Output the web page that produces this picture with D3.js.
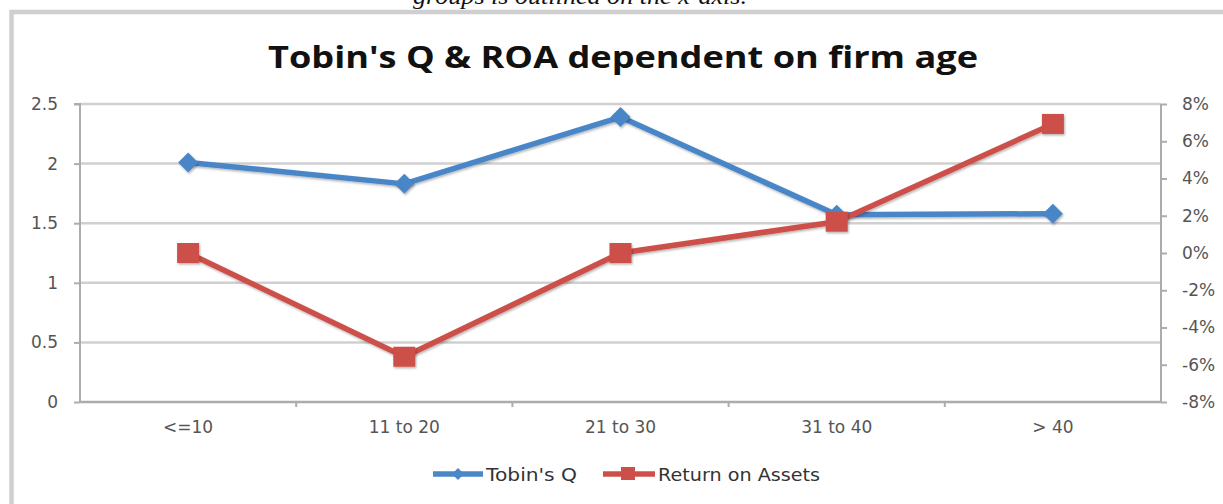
<!DOCTYPE html>
<html>
<head>
<meta charset="utf-8">
<script src="https://cdn.jsdelivr.net/npm/d3@7/dist/d3.min.js"></script>
<style>
  html, body { margin: 0; padding: 0; background: #fff; }
  svg { display: block; }
</style>
</head>
<body>
<svg id="chart" width="1223" height="504"></svg>
<script>
const categories = ["<=10", "11 to 20", "21 to 30", "31 to 40", "> 40"];
const tobinsQ = [2.01, 1.83, 2.39, 1.57, 1.58];
const roa = [0.000, -0.0557, 0.000, 0.0168, 0.0693];
const leftTicks = [0, 0.5, 1, 1.5, 2, 2.5];
const rightTicks = [-0.08, -0.06, -0.04, -0.02, 0, 0.02, 0.04, 0.06, 0.08];
const rightTickLabels = ["-8%", "-6%", "-4%", "-2%", "0%", "2%", "4%", "6%", "8%"];
const seriesNames = ["Tobin's Q", "Return on Assets"];
const titleText = "Tobin's Q & ROA dependent on firm age";
const captionText = "groups is outlined on the x-axis.";

const svg = d3.select("#chart");
const W = 1223, H = 504;
const plot = { left: 80, right: 1161, top: 104, bottom: 402 };
const blue = "#4a86c8", red = "#cc5049";
const gridCol = "#d0d0d0", axisCol = "#acacac", labelCol = "#555";
const tickFont = "'DejaVu Sans', Verdana, sans-serif";
const tickSize = 17;

const defs = svg.append("defs");
const f = defs.append("filter").attr("id", "shadow").attr("x", "-50%").attr("y", "-50%").attr("width", "200%").attr("height", "200%");
f.append("feDropShadow").attr("dx", 1).attr("dy", 1.5).attr("stdDeviation", 1.2).attr("flood-color", "#000").attr("flood-opacity", 0.3);

// caption fragment at top (cut off in the source)
svg.append("text").attr("x", 580).attr("y", 4).attr("text-anchor", "middle")
  .attr("font-family", "'Liberation Serif', 'Times New Roman', serif")
  .attr("font-style", "italic").attr("font-size", 23).attr("fill", "#111")
  .attr("textLength", 334).attr("lengthAdjust", "spacingAndGlyphs")
  .text(captionText);

// chart frame
svg.append("path").attr("d", `M11.5,${H + 10} V12 H${W + 10}`)
  .attr("fill", "none").attr("stroke", "#cfcfcf").attr("stroke-width", 4.5);

// title
svg.append("text").attr("x", 623).attr("y", 68).attr("text-anchor", "middle")
  .attr("font-family", "'Open Sans', 'Liberation Sans', sans-serif")
  .attr("font-weight", "bold").attr("font-size", 30).attr("fill", "#111")
  .attr("textLength", 710).attr("lengthAdjust", "spacingAndGlyphs")
  .text(titleText);

const x = d3.scaleBand().domain(categories).range([plot.left, plot.right]);
const yL = d3.scaleLinear().domain([0, 2.5]).range([plot.bottom, plot.top]);
const yR = d3.scaleLinear().domain([-0.08, 0.08]).range([plot.bottom, plot.top]);

// gridlines
svg.append("g").selectAll("line").data(leftTicks.filter(d => d > 0)).join("line")
  .attr("x1", plot.left).attr("x2", plot.right)
  .attr("y1", d => yL(d)).attr("y2", d => yL(d))
  .attr("stroke", gridCol).attr("stroke-width", 2.5);

// left axis
const gL = svg.append("g").attr("transform", `translate(${plot.left},0)`)
  .call(d3.axisLeft(yL).tickValues(leftTicks).tickSize(6).tickPadding(16).tickFormat(d3.format("")));
gL.select(".domain").attr("stroke", axisCol).attr("stroke-width", 2).attr("d", `M-6,${plot.top}H0V${plot.bottom}`);
gL.selectAll(".tick line").attr("stroke", axisCol).attr("stroke-width", 2);
gL.selectAll(".tick text").attr("fill", labelCol).attr("font-family", tickFont).attr("font-size", tickSize);

// right axis
const gR = svg.append("g").attr("transform", `translate(${plot.right},0)`)
  .call(d3.axisRight(yR).tickValues(rightTicks).tickSize(6).tickPadding(15)
    .tickFormat((d, i) => rightTickLabels[i]));
gR.select(".domain").attr("stroke", axisCol).attr("stroke-width", 2).attr("d", `M0,${plot.top}V${plot.bottom}`);
gR.selectAll(".tick line").attr("stroke", axisCol).attr("stroke-width", 2);
gR.selectAll(".tick text").attr("fill", labelCol).attr("font-family", tickFont).attr("font-size", tickSize);

// x axis
const gX = svg.append("g").attr("transform", `translate(0,${plot.bottom})`)
  .call(d3.axisBottom(x).tickSize(0).tickPadding(19));
gX.select(".domain").attr("stroke", axisCol).attr("stroke-width", 2.5).attr("d", `M${plot.left},0H${plot.right}`);
gX.selectAll(".tick text").attr("fill", labelCol).attr("font-family", tickFont).attr("font-size", tickSize);
// boundary tick marks
svg.append("g").selectAll("line").data(categories.slice(1)).join("line")
  .attr("x1", d => x(d)).attr("x2", d => x(d))
  .attr("y1", plot.bottom).attr("y2", plot.bottom + 5)
  .attr("stroke", axisCol).attr("stroke-width", 2);

const cx = d => x(d) + x.bandwidth() / 2;

// Tobin's Q line
const lineQ = d3.line().x((d, i) => cx(categories[i])).y(d => yL(d));
svg.append("path").datum(tobinsQ).attr("d", lineQ)
  .attr("fill", "none").attr("stroke", blue).attr("stroke-width", 5.5)
  .attr("stroke-linejoin", "round").attr("filter", "url(#shadow)");
const diamond = (s) => `M0,${-s}L${s},0L0,${s}L${-s},0Z`;
svg.append("g").selectAll("path").data(tobinsQ).join("path")
  .attr("transform", (d, i) => `translate(${cx(categories[i])},${yL(d)})`)
  .attr("d", diamond(10)).attr("fill", blue).attr("filter", "url(#shadow)");

// ROA line
const lineR = d3.line().x((d, i) => cx(categories[i])).y(d => yR(d));
svg.append("path").datum(roa).attr("d", lineR)
  .attr("fill", "none").attr("stroke", red).attr("stroke-width", 5.5)
  .attr("stroke-linejoin", "round").attr("filter", "url(#shadow)");
svg.append("g").selectAll("rect").data(roa).join("rect")
  .attr("x", (d, i) => cx(categories[i]) - 11).attr("y", d => yR(d) - 10)
  .attr("width", 22).attr("height", 20).attr("fill", red).attr("filter", "url(#shadow)");

// legend
const leg = svg.append("g").attr("font-family", tickFont).attr("font-size", 18).attr("fill", "#333");
const ly = 474;
leg.append("line").attr("x1", 433).attr("x2", 483).attr("y1", ly).attr("y2", ly).attr("stroke", blue).attr("stroke-width", 5.5);
leg.append("path").attr("transform", `translate(458,${ly})`).attr("d", diamond(6)).attr("fill", blue);
leg.append("text").attr("x", 486).attr("y", ly + 6.5).attr("textLength", 91).attr("lengthAdjust", "spacingAndGlyphs").text(seriesNames[0]);
leg.append("line").attr("x1", 603).attr("x2", 655).attr("y1", ly).attr("y2", ly).attr("stroke", red).attr("stroke-width", 5.5);
leg.append("rect").attr("x", 621).attr("y", ly - 7).attr("width", 14).attr("height", 13).attr("fill", red);
leg.append("text").attr("x", 658).attr("y", ly + 6.5).attr("textLength", 162).attr("lengthAdjust", "spacingAndGlyphs").text(seriesNames[1]);
</script>
</body>
</html>
